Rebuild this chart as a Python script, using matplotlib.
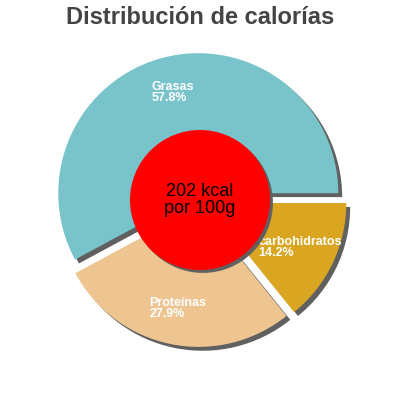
import matplotlib.pyplot as plt
from matplotlib.patches import Circle, Shadow

plt.rcParams['font.family'] = ['Liberation Sans', 'DejaVu Sans']

labels = ["Grasas", "Proteínas", "carbohidratos"]
values = [57.8, 27.9, 14.2]
colors = ["#79C3CB", "#EEC591", "#DAA520"]
kcal = 202

fig = plt.figure(figsize=(4, 4), dpi=100)
ax = fig.add_axes([0, 0, 1, 1])

texts_in = [f"{l}\n{v}%" for l, v in zip(labels, values)]
wedges, texts = ax.pie(values, labels=texts_in, colors=colors, startangle=0,
                       counterclock=True, explode=[0.05, 0.05, 0.05],
                       labeldistance=0.74, radius=1,
                       shadow={'ox': 0.02, 'oy': -0.02, 'facecolor': '#606060',
                               'edgecolor': 'none', 'alpha': 1},
                       wedgeprops={'linewidth': 0},
                       textprops={'color': 'white', 'fontsize': 9,
                                  'fontweight': 'bold'})
for t in texts:
    t.set_horizontalalignment('center')
    t.set_verticalalignment('center')
    t.set_multialignment('left')
    t.set_linespacing(0.9)

center = Circle((0, 0), 0.5, facecolor='red', edgecolor='none', zorder=5)
ax.add_patch(center)
sh = Shadow(center, 0.015, -0.015, facecolor='#606060', edgecolor='none', alpha=1)
ax.add_patch(sh)
ax.text(0, 0, f"{kcal} kcal\npor 100g", ha='center', va='center',
        fontsize=13, color='black', linespacing=0.95, zorder=6)

ax.set_xlim(-200 / 140, 200 / 140)
ax.set_ylim(-200 / 140, 200 / 140)
ax.set_aspect('equal')
ax.axis('off')

fig.text(0.5, 1 - 17 / 400, "Distribución de calorías", ha='center', va='center',
         fontsize=17, fontweight='bold', color='#444444')

fig.savefig("out.png", dpi=100)
